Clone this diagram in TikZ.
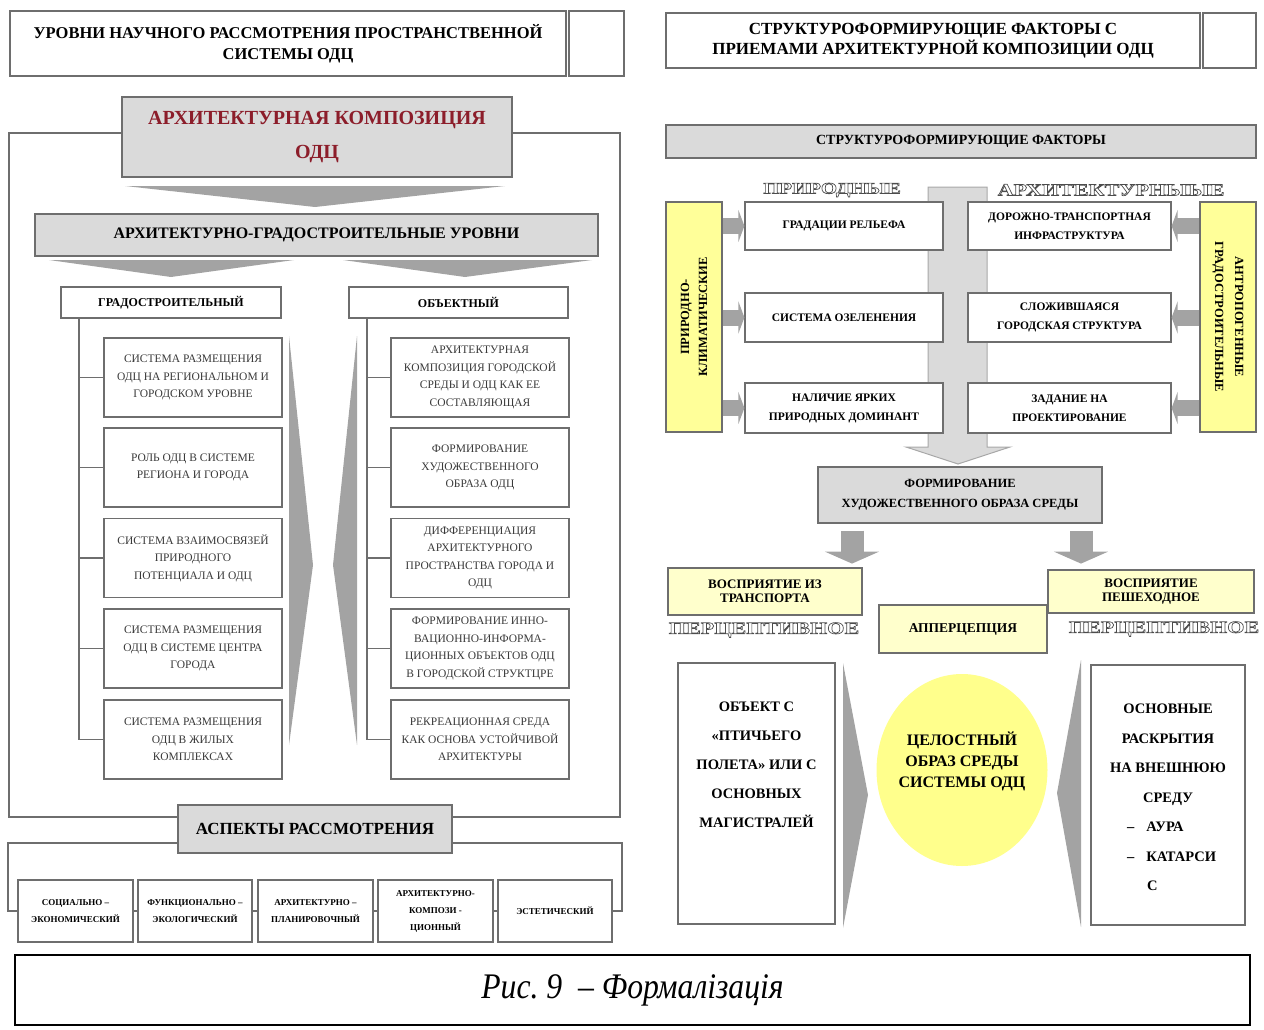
\documentclass[tikz,border=0pt]{standalone}
\usepackage{fontspec}
\setmainfont{Liberation Serif}
\newfontfamily\outlfont[FakeStretch=1.3]{Liberation Serif}
\newfontfamily\capfont[FakeStretch=0.88]{Liberation Serif}
\usetikzlibrary{arrows.meta,shapes.geometric}
\definecolor{bordergray}{HTML}{6E6E6E}
\definecolor{boxgray}{HTML}{DADADA}
\definecolor{chevgray}{HTML}{A3A3A3}
\definecolor{yel}{HTML}{FFFF99}
\definecolor{paleyel}{HTML}{FFFFCC}
\definecolor{ellyel}{HTML}{FFFF8C}
\definecolor{darkred}{HTML}{8C1D2A}
\definecolor{txtgray}{HTML}{3A3A3A}
\newcommand\fsz[2]{\fontsize{#1}{#2}\selectfont}
\newcommand\outlinetext[1]{\special{pdf:literal direct 1 Tr 0.7 w 0.3 G}#1\special{pdf:literal direct 0 Tr}}
\begin{document}
\begin{tikzpicture}[x=1pt,y=-1pt,
  box/.style={draw=bordergray,line width=1.2pt,fill=white,align=center,inner sep=2pt},
  gbox/.style={box,fill=boxgray},
  ybox/.style={box,fill=yel},
  pybox/.style={box,fill=paleyel},
  lvl/.style={box,font=\fsz{11.5}{17.5},text=txtgray,minimum width=178,minimum height=79},
  aspbox/.style={box,font=\bfseries\fsz{9}{17},minimum height=62},
  fac/.style={box,font=\bfseries\fsz{11.5}{19}},
  conn/.style={draw=bordergray,line width=1.3pt},
  chev/.style={fill=chevgray},
  smallarrow/.style={draw=chevgray,line width=16pt,-{Triangle[length=6pt,width=32pt]}},
  downarrow/.style={draw=chevgray,line width=23pt,-{Triangle[length=12pt,width=54pt]}},
  outl/.style={font=\outlfont\bfseries\fsz{17}{20},inner sep=0pt}
]
\useasboundingbox (0,0) rectangle (1264,1030);

% ================= LEFT PART =================
\node[box,minimum width=556,minimum height=65,font=\bfseries\fsz{16.5}{21}] (ltitle) at (288,43.5) {УРОВНИ НАУЧНОГО РАССМОТРЕНИЯ ПРОСТРАНСТВЕННОЙ\\СИСТЕМЫ ОДЦ};
\node[box,minimum width=55,minimum height=65] (lside) at (596.5,43.5) {};

% chevrons and spikes
\fill[chev] (125,186) -- (505,186) -- (315,207) -- cycle;
\fill[chev] (49,260) -- (294,260) -- (171,277) -- cycle;
\fill[chev] (343,260) -- (592,260) -- (465,277) -- cycle;
\fill[chev] (289,336) -- (313,565) -- (289,745) -- cycle;
\fill[chev] (357,336) -- (333,565) -- (357,745) -- cycle;

\node[gbox,minimum width=390,minimum height=80,font=\bfseries\fsz{20}{34},text=darkred] (arch) at (317,137) {АРХИТЕКТУРНАЯ КОМПОЗИЦИЯ\\ОДЦ};
\node[gbox,minimum width=563,minimum height=42,font=\bfseries\fsz{16}{20}] (lev) at (316.5,235) {АРХИТЕКТУРНО-ГРАДОСТРОИТЕЛЬНЫЕ УРОВНИ};

\node[box,minimum width=220,minimum height=31,font=\bfseries\fsz{12}{14}] (gh) at (171,302.5) {ГРАДОСТРОИТЕЛЬНЫЙ};
\node[box,minimum width=219,minimum height=31,font=\bfseries\fsz{12}{14}] (oh) at (458.5,302.5) {ОБЪЕКТНЫЙ};

\node[lvl] (l1) at (193,377.5) {СИСТЕМА РАЗМЕЩЕНИЯ\\ОДЦ НА РЕГИОНАЛЬНОМ И\\ГОРОДСКОМ УРОВНЕ};
\node[lvl] (l2) at (193,467.5) {РОЛЬ ОДЦ В СИСТЕМЕ\\РЕГИОНА И ГОРОДА};
\node[lvl] (l3) at (193,558) {СИСТЕМА ВЗАИМОСВЯЗЕЙ\\ПРИРОДНОГО\\ПОТЕНЦИАЛА И ОДЦ};
\node[lvl] (l4) at (193,648.5) {СИСТЕМА РАЗМЕЩЕНИЯ\\ОДЦ В СИСТЕМЕ ЦЕНТРА\\ГОРОДА};
\node[lvl] (l5) at (193,739.5) {СИСТЕМА РАЗМЕЩЕНИЯ\\ОДЦ В ЖИЛЫХ\\КОМПЛЕКСАХ};

\node[lvl] (r1) at (480,377.5) {АРХИТЕКТУРНАЯ\\КОМПОЗИЦИЯ ГОРОДСКОЙ\\СРЕДЫ И ОДЦ КАК ЕЕ\\СОСТАВЛЯЮЩАЯ};
\node[lvl] (r2) at (480,467.5) {ФОРМИРОВАНИЕ\\ХУДОЖЕСТВЕННОГО\\ОБРАЗА ОДЦ};
\node[lvl] (r3) at (480,558) {ДИФФЕРЕНЦИАЦИЯ\\АРХИТЕКТУРНОГО\\ПРОСТРАНСТВА ГОРОДА И\\ОДЦ};
\node[lvl] (r4) at (480,648.5) {ФОРМИРОВАНИЕ ИННО-\\ВАЦИОННО-ИНФОРМА-\\ЦИОННЫХ ОБЪЕКТОВ ОДЦ\\В ГОРОДСКОЙ СТРУКТЦРЕ};
\node[lvl] (r5) at (480,739.5) {РЕКРЕАЦИОННАЯ СРЕДА\\КАК ОСНОВА УСТОЙЧИВОЙ\\АРХИТЕКТУРЫ};

\coordinate (tL) at (79,0);
\coordinate (tR) at (367,0);
\draw[conn] (gh.south -| tL) |- (l5.west);
\draw[conn] (oh.south -| tR) |- (r5.west);
\foreach \i in {1,2,3,4}{
  \draw[conn] (l\i.west -| tL) -- (l\i.west);
  \draw[conn] (r\i.west -| tR) -- (r\i.west);
}

\node[gbox,minimum width=274,minimum height=48,font=\bfseries\fsz{17}{20}] (asp) at (315,829) {АСПЕКТЫ РАССМОТРЕНИЯ};

\coordinate (fl) at (9,500);
\coordinate (fr) at (620,500);
\draw[conn] ([yshift=4pt]arch.west) -| (fl) |- ([yshift=12pt]asp.west);
\draw[conn] ([yshift=4pt]arch.east) -| (fr) |- ([yshift=12pt]asp.east);

\node[aspbox,minimum width=115] (a1) at (75.5,911) {СОЦИАЛЬНО –\\ЭКОНОМИЧЕСКИЙ};
\node[aspbox,minimum width=114] (a2) at (195,911) {ФУНКЦИОНАЛЬНО –\\ЭКОЛОГИЧЕСКИЙ};
\node[aspbox,minimum width=115] (a3) at (315.5,911) {АРХИТЕКТУРНО –\\ПЛАНИРОВОЧНЫЙ};
\node[aspbox,minimum width=115] (a4) at (435.5,911) {АРХИТЕКТУРНО-\\КОМПОЗИ -\\ЦИОННЫЙ};
\node[aspbox,minimum width=114] (a5) at (555,911) {ЭСТЕТИЧЕСКИЙ};

\coordinate (bl) at (8,0);
\coordinate (br) at (622,0);
\draw[conn] ([yshift=-14pt]asp.west) -| (a1.west -| bl) -- (a1.west);
\draw[conn] ([yshift=-14pt]asp.east) -| (a5.east -| br) -- (a5.east);
\draw[conn] (a1.east) -- (a2.west);
\draw[conn] (a2.east) -- (a3.west);
\draw[conn] (a3.east) -- (a4.west);
\draw[conn] (a4.east) -- (a5.west);

% ================= RIGHT PART =================
\node[box,minimum width=534,minimum height=55,font=\bfseries\fsz{17}{20}] (rtitle) at (933,40.5) {СТРУКТУРОФОРМИРУЮЩИЕ ФАКТОРЫ С\\ПРИЕМАМИ АРХИТЕКТУРНОЙ КОМПОЗИЦИИ ОДЦ};
\node[box,minimum width=53,minimum height=55] (rside) at (1229.5,40.5) {};

\node[gbox,minimum width=590,minimum height=33,font=\bfseries\fsz{14}{16}] (fhdr) at (961,141.5) {СТРУКТУРОФОРМИРУЮЩИЕ ФАКТОРЫ};

% big vertical arrow
\draw[fill=boxgray,draw=bordergray!60,line width=1pt] (928,187) -- (987,187) -- (987,447) -- (1010,447) -- (958,464) -- (906,447) -- (928,447) -- cycle;

\node[ybox,minimum width=56,minimum height=230] (yl) at (694,317) {};
\node[ybox,minimum width=56,minimum height=230] (yr) at (1228,317) {};
\node[rotate=90,font=\bfseries\fsz{12.5}{18},align=center] (ylt) at (yl) {ПРИРОДНО-\\КЛИМАТИЧЕСКИЕ};
\node[rotate=-90,font=\bfseries\fsz{12.5}{20},align=center] (yrt) at (yr) {АНТРОПОГЕННЫЕ\\ГРАДОСТРОИТЕЛЬНЫЕ};

\node[fac,minimum width=198,minimum height=48] (f1) at (844,226) {ГРАДАЦИИ РЕЛЬЕФА};
\node[fac,minimum width=198,minimum height=49] (f2) at (844,317.5) {СИСТЕМА ОЗЕЛЕНЕНИЯ};
\node[fac,minimum width=198,minimum height=50] (f3) at (844,408) {НАЛИЧИЕ ЯРКИХ\\ПРИРОДНЫХ ДОМИНАНТ};
\node[fac,minimum width=203,minimum height=48] (g1) at (1069.5,226) {ДОРОЖНО-ТРАНСПОРТНАЯ\\ИНФРАСТРУКТУРА};
\node[fac,minimum width=203,minimum height=49] (g2) at (1069.5,317.5) {СЛОЖИВШАЯСЯ\\ГОРОДСКАЯ СТРУКТУРА};
\node[fac,minimum width=203,minimum height=50] (g3) at (1069.5,408) {ЗАДАНИЕ НА\\ПРОЕКТИРОВАНИЕ};

\foreach \i in {1,2,3}{
  \draw[smallarrow] (yl.east |- f\i.west) -- (f\i.west);
  \draw[smallarrow] (yr.west |- g\i.east) -- (g\i.east);
}

\node[gbox,minimum width=284,minimum height=56,font=\bfseries\fsz{12.5}{20}] (form) at (960,495) {ФОРМИРОВАНИЕ\\ХУДОЖЕСТВЕННОГО ОБРАЗА СРЕДЫ};

\draw[downarrow] ([xshift=-108pt,yshift=-7pt]form.south) -- ++(0,33);
\draw[downarrow] ([xshift=121pt,yshift=-7pt]form.south) -- ++(0,33);

\node[pybox,minimum width=194,minimum height=47,font=\bfseries\fsz{13}{14}] (vt) at (765,591.5) {ВОСПРИЯТИЕ ИЗ\\ТРАНСПОРТА};
\node[pybox,minimum width=206,minimum height=43,font=\bfseries\fsz{13}{14}] (vp) at (1151,591.5) {ВОСПРИЯТИЕ\\ПЕШЕХОДНОЕ};
\node[pybox,minimum width=168,minimum height=48,font=\bfseries\fsz{13.5}{16}] (app) at (963,629) {АППЕРЦЕПЦИЯ};

% wedges
\fill[chev] (843,663) -- (868,795) -- (843,928) -- cycle;
\fill[chev] (1081,660) -- (1057,793) -- (1081,927) -- cycle;

\node[box,minimum width=157,minimum height=261,
  label={[anchor=north,yshift=-36pt,align=center,font=\bfseries\fsz{14.5}{29}]north:{ОБЪЕКТ С\\«ПТИЧЬЕГО\\ПОЛЕТА» ИЛИ С\\ОСНОВНЫХ\\МАГИСТРАЛЕЙ}}] (lb) at (756.5,793.5) {};

\node[ellipse,fill=ellyel,inner sep=0pt,minimum width=171,minimum height=192,
  label={[yshift=9pt,align=center,font=\bfseries\fsz{16}{21}]center:{ЦЕЛОСТНЫЙ\\ОБРАЗ СРЕДЫ\\СИСТЕМЫ ОДЦ}}] (ell) at (962,770) {};

\node[box,minimum width=154,minimum height=260,
  label={[anchor=north,yshift=-36pt,align=center,font=\bfseries\fsz{14.5}{29.5}]north:{ОСНОВНЫЕ\\РАСКРЫТИЯ\\НА ВНЕШНЮЮ\\СРЕДУ\\\makebox[100pt][l]{\hspace{9pt}–\hspace{12pt}АУРА}\\\makebox[100pt][l]{\hspace{9pt}–\hspace{12pt}КАТАРСИ}\\\makebox[100pt][l]{\hspace{29pt}С}}}] (rb) at (1168,795) {};

% caption
\node[draw=black,line width=2pt,minimum width=1235,minimum height=70,font=\capfont\itshape\fsz{36}{40}] (cap) at (632.5,990) {Рис.~9 \ – Формалізація};

% outlined texts (last)
\node[outl,font=\outlfont\bfseries\fsz{16}{20}] (prir) at (832,190) {\outlinetext{ПРИРОДНЫЕ}};
\node[outl] (arhf) at (1111,190) {\outlinetext{АРХИТЕКТУРНЫЫЕ}};
\node[outl] (perc1) at (764,630) {\outlinetext{ПЕРЦЕПТИВНОЕ}};
\node[outl] (perc2) at (1164,629) {\outlinetext{ПЕРЦЕПТИВНОЕ}};
\end{tikzpicture}
\end{document}
